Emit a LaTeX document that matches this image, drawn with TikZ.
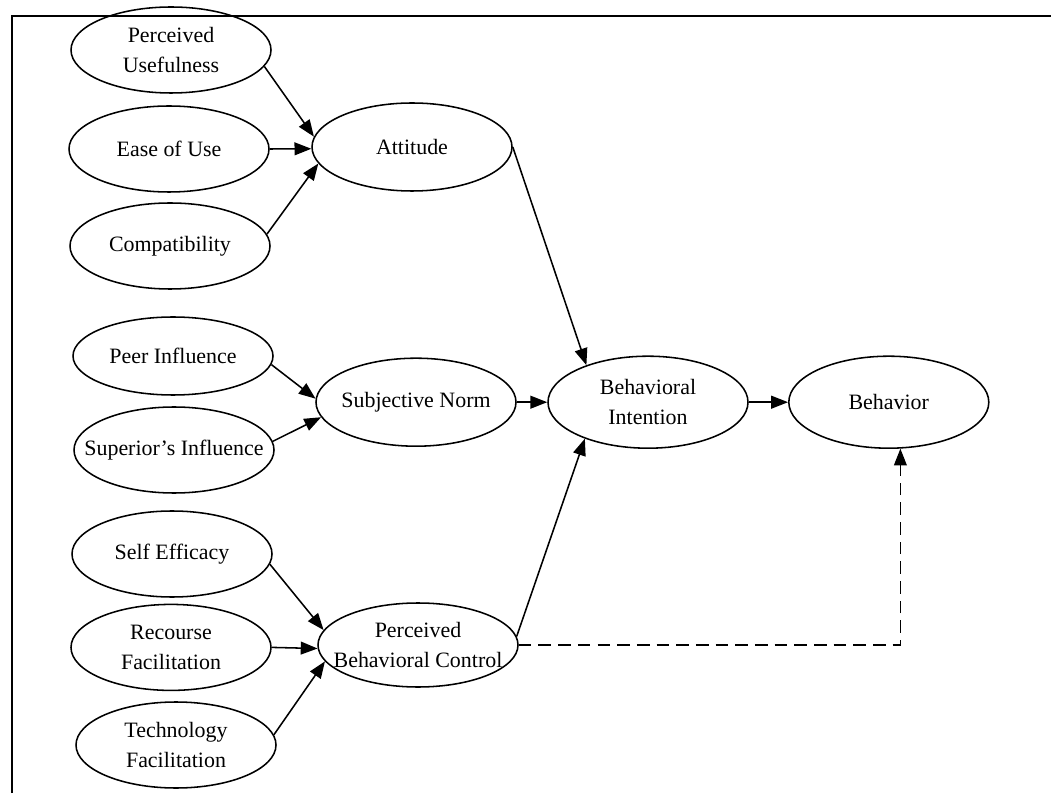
\documentclass[tikz,border=0pt]{standalone}
\usepackage{fontspec}
\setmainfont{Liberation Serif}
\usepackage{tikz}
\usetikzlibrary{positioning,arrows.meta,shapes.geometric}

\begin{document}
\begin{tikzpicture}[
    construct/.style={draw, ellipse, minimum width=5.0cm, minimum height=2.15cm, inner xsep=-0.8cm, inner ysep=0pt, align=center, line width=1.1pt, font=\fontsize{15.6}{21}\selectfont},
    flow/.style={-{Triangle[length=0.42cm,width=0.32cm]}, line width=1.1pt},
    dashflow/.style={flow, dash pattern=on 9pt off 5pt},
]
  \useasboundingbox (0,0) rectangle (26.275,19.825);
  % frame
  \draw[line width=1.1pt] (0.3,0) |- (26.275,19.425);

  % antecedents
  \node[construct] (pu)   at (4.275,18.575) {Perceived\\Usefulness};
  \node[construct] (eou)  at (4.225,16.10)  {Ease of Use};
  \node[construct] (comp) at (4.25,13.675)  {Compatibility};
  \node[construct, minimum height=1.95cm] (peer) at (4.325,10.925) {Peer Influence};
  \node[construct] (sup)  at (4.35,8.575)   {Superior's Influence};
  \node[construct] (se)   at (4.3,5.975)    {Self Efficacy};
  \node[construct] (rf)   at (4.275,3.64)   {Recourse\\Facilitation};
  \node[construct] (tf)   at (4.4,1.20)     {Technology\\Facilitation};

  % TPB constructs
  \node[construct, minimum height=2.2cm] (att) at (10.3,16.15)  {Attitude};
  \node[construct, minimum height=2.2cm] (sn)  at (10.4,9.77)   {Subjective Norm};
  \node[construct, minimum height=2.1cm] (pbc) at (10.45,3.70)  {Perceived\\Behavioral Control};
  \node[construct, minimum height=2.3cm] (bi)  at (16.2,9.77)   {Behavioral\\Intention};
  \node[construct, minimum height=2.3cm] (beh) at (22.22,9.77)  {Behavior};

  \draw[flow] (pu.-10)   -- (att.174);
  \draw[flow] (eou.east) -- (att.181);
  \draw[flow] (comp.7)   -- (att.190);
  \draw[flow] (peer.-5)  -- (sn.178);
  \draw[flow] (sup.5)    -- (sn.189);
  \draw[flow] (se.-6)    -- (pbc.171);
  \draw[flow] (rf.east)  -- (pbc.182);
  \draw[flow] (tf.6)     -- (pbc.190);

  \draw[flow] (att.east) -- (bi.149);
  \draw[flow] (sn.east)  -- (bi.west);
  \draw[flow] (pbc.5)    -- (bi.210);
  \draw[flow] (bi.east)  -- (beh.west);
  \draw[dashflow] (pbc.east) -| (beh.-76);
\end{tikzpicture}
\end{document}
